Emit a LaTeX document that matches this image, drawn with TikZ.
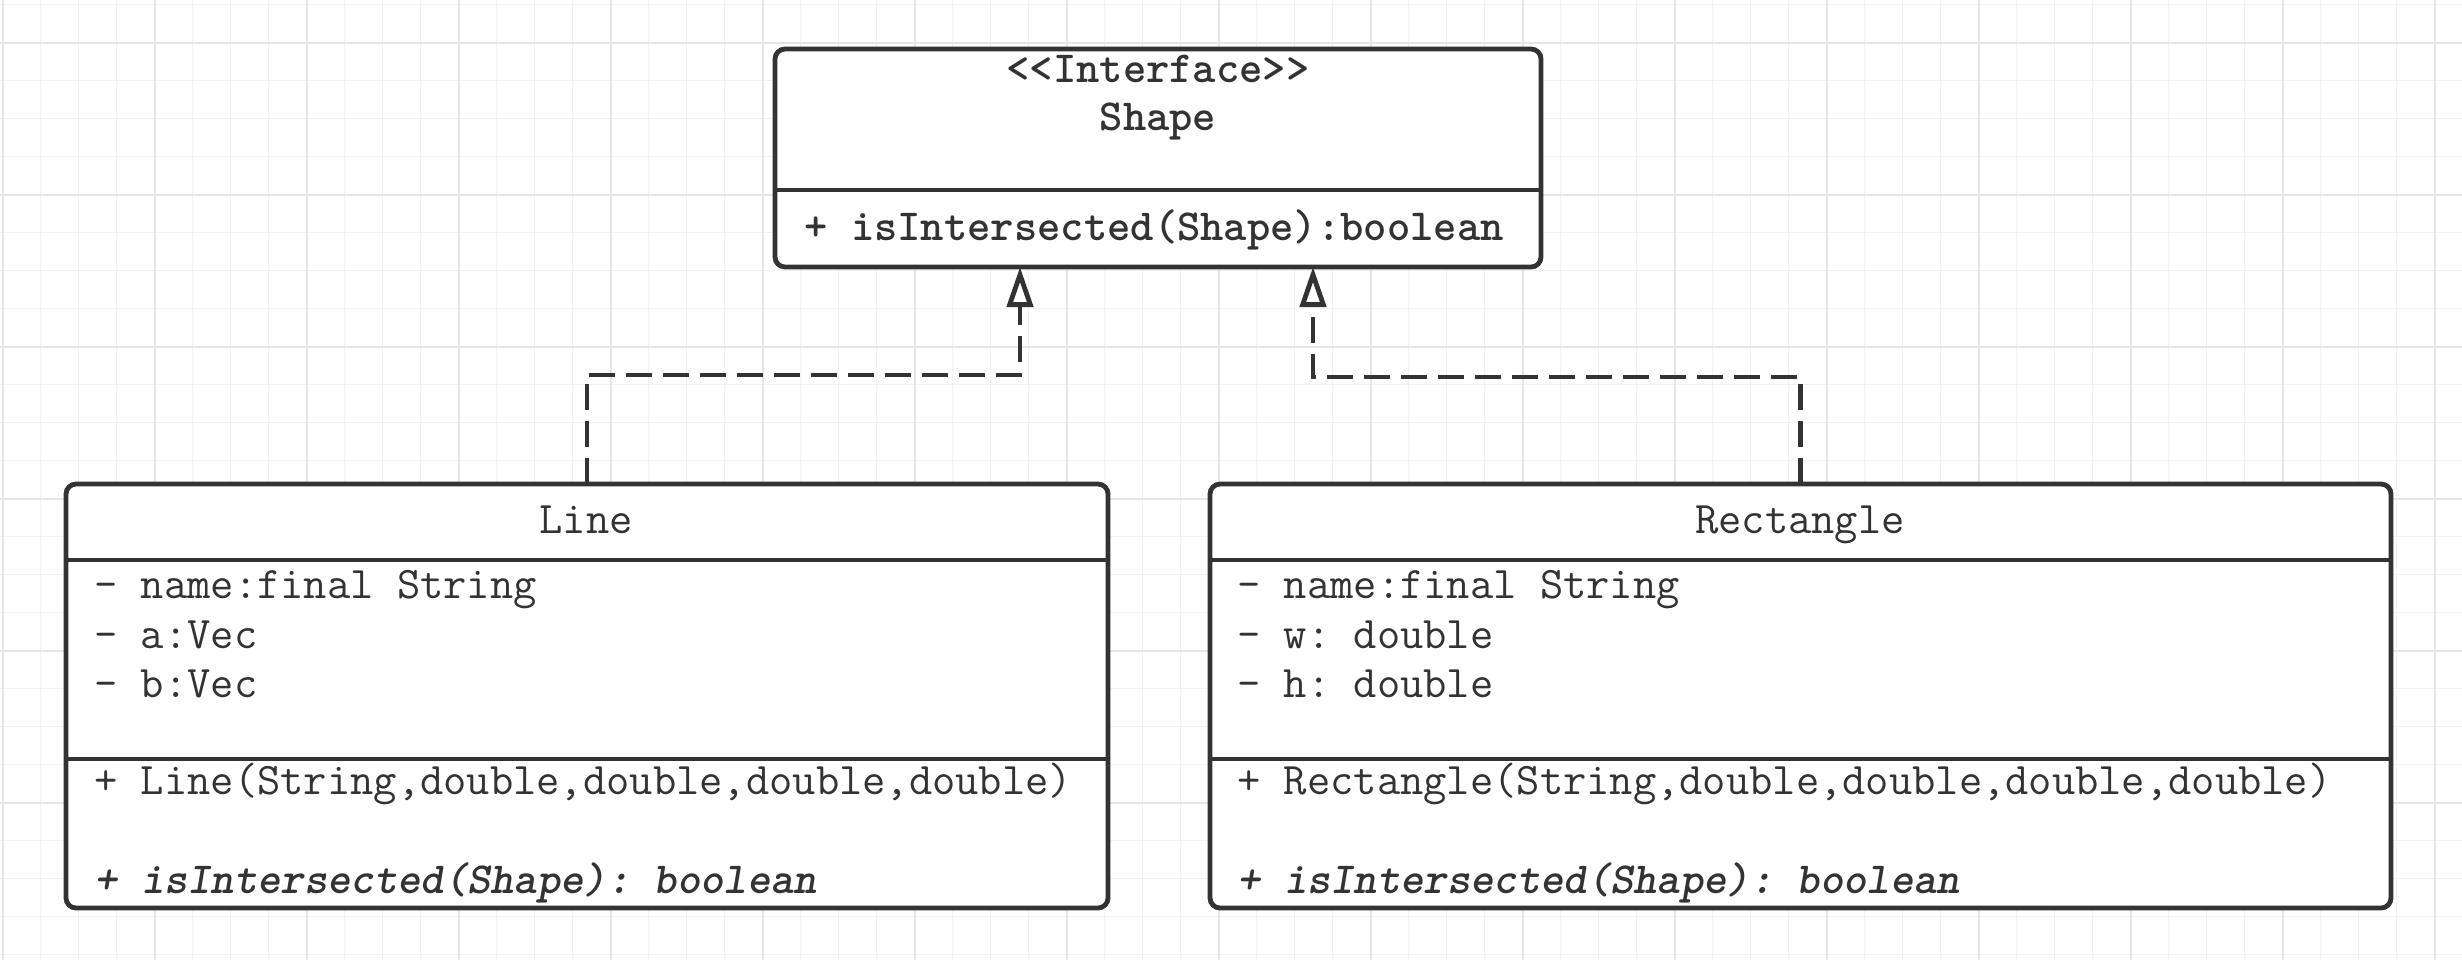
\documentclass[tikz,border=0pt]{standalone}
\usepackage{fontspec}
\usetikzlibrary{arrows.meta}
\definecolor{ink}{HTML}{333333}
\definecolor{gridminor}{HTML}{F2F2F2}
\definecolor{gridmajor}{HTML}{E6E6E6}
\newcommand\umlfont{\ttfamily\fontsize{22.6pt}{26pt}\selectfont\frenchspacing}
\newcommand\umlboldfont{\ttfamily\bfseries\fontsize{22.2pt}{26pt}\selectfont\frenchspacing}
\begin{document}
\begin{tikzpicture}[x=0.5pt,y=-0.5pt,
  umlbox/.style={draw=ink, line width=2.4pt, fill=white, rounded corners=5pt, inner sep=0pt, outer sep=0pt},
  sepline/.style={draw=ink, line width=2.4pt},
  txt/.style={font=\umlfont, text=ink, inner sep=0pt, anchor=base west},
  ctxt/.style={txt, anchor=base},
  boldtxt/.style={font=\umlboldfont},
  bolditxt/.style={font=\umlboldfont\itshape},
  dep/.style={draw=ink, line width=2.4pt, dash pattern=on 13pt off 5.5pt,
    -{Triangle[open, length=20pt, width=13pt, fill=white]}}
]
\useasboundingbox (0,0) rectangle (2462,960);
\fill[white] (0,0) rectangle (2462,960);
% grid
\foreach \i in {0,...,64} \draw[gridminor, line width=0.75pt] ({2.7+38*\i},0) -- ({2.7+38*\i},960);
\foreach \i in {0,...,25} \draw[gridminor, line width=0.75pt] (0,{4.7+38*\i}) -- (2462,{4.7+38*\i});
\foreach \i in {0,...,16} \draw[gridmajor, line width=1pt] ({2.7+152*\i},0) -- ({2.7+152*\i},960);
\foreach \i in {0,...,5} \draw[gridmajor, line width=1pt] (0,{42.7+152*\i}) -- (2462,{42.7+152*\i});

% boxes
\node[umlbox, minimum width=383pt, minimum height=109pt] (shape) at (1158,158) {};
\node[umlbox, minimum width=521pt, minimum height=212pt] (line) at (587,696) {};
\node[umlbox, minimum width=590.5pt, minimum height=212pt] (rect) at (1800.5,696) {};

% separators
\draw[sepline] (775,190) -- (1541,190);
\draw[sepline] (66,560) -- (1108,560);
\draw[sepline] (66,759) -- (1108,759);
\draw[sepline] (1210,560) -- (2391,560);
\draw[sepline] (1210,759) -- (2391,759);

% Shape texts
\node[ctxt, boldtxt] (sStereo) at (1158,82) {<\kern0pt<Interface>\kern0pt>};
\node[ctxt, boldtxt] (sName) at (1158,130) {Shape};
\node[txt, boldtxt] (sM1) at (804,240) {+ isIntersected(Shape):boolean};

% Line texts
\node[ctxt] (lName) at (586,533) {Line};
\node[txt] (lA1) at (94,598) {- name:final String};
\node[txt] (lA2) at (94,648) {- a:Vec};
\node[txt] (lA3) at (94,697) {- b:Vec};
\node[txt] (lM1) at (94,794) {+ Line(String,double,double,double,double)};
\node[txt, bolditxt] (lM2) at (94,893) {+ isIntersected(Shape): boolean};

% Rectangle texts
\node[ctxt] (rName) at (1800,533) {Rectangle};
\node[txt] (rA1) at (1237,598) {- name:final String};
\node[txt] (rA2) at (1237,648) {- w: double};
\node[txt] (rA3) at (1237,697) {- h: double};
\node[txt] (rM1) at (1237,794) {+ Rectangle(String,double,double,double,double)};
\node[txt, bolditxt] (rM2) at (1237,893) {+ isIntersected(Shape): boolean};

% connectors
\coordinate (s1) at ([xshift=-69pt]shape.south);
\coordinate (s2) at ([xshift=77.5pt]shape.south);
\coordinate (m1) at (0,375);
\coordinate (m2) at (0,377);
\draw[dep] (line.north) -- (line.north |- m1) -| (s1);
\draw[dep] (rect.north) -- (rect.north |- m2) -| (s2);
\end{tikzpicture}
\end{document}
